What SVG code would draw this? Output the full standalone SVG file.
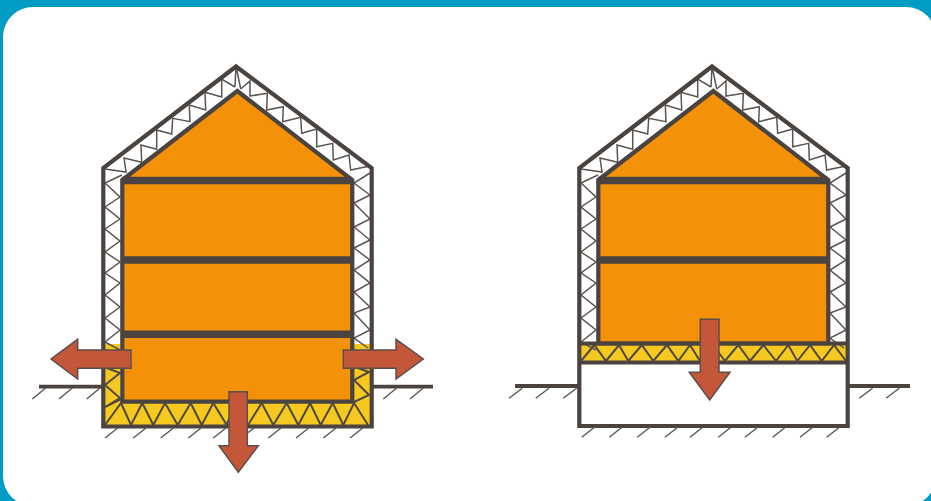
<svg xmlns="http://www.w3.org/2000/svg" xmlns:xlink="http://www.w3.org/1999/xlink" width="931" height="501" viewBox="0 0 931 501">
<style>
.wall{fill:none;stroke:#4a4340;stroke-width:4.200;stroke-linejoin:miter}
.inner{fill:#f39209;stroke:#4a4340;stroke-width:4.200;stroke-linejoin:miter}
.floor{fill:none;stroke:#4a4340;stroke-width:7.400}
.truss{fill:none;stroke:#5a5452;stroke-width:1.500;stroke-linejoin:miter}
.zig{fill:none;stroke:#4f4845;stroke-width:2;stroke-linejoin:miter}
.yellow{fill:#f5c91f}
.ground{fill:none;stroke:#4a4340;stroke-width:3.800}
.tick{fill:none;stroke:#5a5452;stroke-width:1.400}
.arrow{fill:#c4573a;stroke:#5c4f4a;stroke-width:1.500;stroke-linejoin:miter}
</style>
<defs>
<g id="upperTruss">
<path class="truss" d="M105 169L126 172L124 158L141.700 162.300L141 145L156.700 149.300L156.700 130L171.700 134L172.700 118.300L190 121.700L189.300 105L205.700 110L205 92.300L221.700 97L221.700 79L235 87"/>
<path class="truss" d="M240.700 89L250 81L250 96L267.300 93.300L266.700 110L283.300 106.700L282.700 121.700L300.700 117.300L301.700 133.300L316.700 129L316.700 146.700L332.700 143.300L333.300 160L349 155L350.700 170L370 166"/>
<path class="truss" d="M236 66L235 87M236 66L240.700 89"/>
</g>
<g id="leftWallTruss"><path class="truss" d="M122 175L105 183L120 197L105 207L120 219L105 229L120 241L105 252L120 262L105 273L120 283L105 295L120 307L105 318L120 330L105 342L120 350"/></g>
<g id="rightWallTruss"><path class="truss" d="M370 173L354 183L370 195L354 203L370 219L354 227L370 240L354 248L370 260L354 270L370 283L354 292L370 307L354 313L370 330L354 338L368 348"/></g>
</defs>
<rect width="931" height="501" fill="#009cc4"/>
<rect x="3" y="7" width="933" height="499" rx="30" ry="30" fill="#fff"/>

<g id="house-left">
<path class="yellow" d="M105 344H120V403H354V344H370V425H105Z"/>
<use xlink:href="#upperTruss"/>
<use xlink:href="#leftWallTruss"/>
<use xlink:href="#rightWallTruss"/>
<path class="zig" d="M105 350L120 358M107 368L120 373L105 385L120 398L105 407L121 399M105 425L121 403L131 425L142.300 403L153.300 425L165 403L177.700 425L190.700 403L201.700 425L213.300 403L226.700 425L235 403M248 425L261.700 403L273.300 425L286.700 403L298.300 425L310 403L320.700 425L332.700 403L343.300 425L354 403L368 425M354 402L369 395L354 380L369 372L355 367"/>
<path class="wall" d="M103.300 426.500V168L236 66.500L371.700 168V426.500Z"/>
<path class="inner" d="M122.300 180L237.300 91L352.300 180V401.700H122.300Z"/>
<path class="floor" d="M122 180.500H352M122 260H352M122 334.300H352"/>
</g>

<g id="house-right">
<rect class="yellow" x="581" y="345" width="265" height="16"/>
<g transform="translate(476 0)">
<use xlink:href="#upperTruss"/>
<use xlink:href="#leftWallTruss"/>
<use xlink:href="#rightWallTruss"/>
</g>
<path class="zig" d="M581 361L594.300 345L606 361L619 345L628.300 361L641.700 345L653.300 361L667 345L678.300 361L690 345L700 361L713 345L725 361L738.300 345L750 361L763.300 345L776 361L788.300 345L797.300 361L810 345L821.700 361L834 345L846 361"/>
<path class="inner" d="M598.300 180L713.300 91L828.300 180V343.500H598.300Z"/>
<path class="wall" d="M579.300 426V168L712 66.500L847.700 168V426Z"/>
<path class="wall" d="M579.300 343.500H847.700M579.300 362.500H847.700"/>
<path class="floor" d="M598 180.500H828M598 260H828"/>
</g>

<g id="ground">
<path class="ground" d="M39 386.700H102M373 386.700H433M515 386H578M849 386H910"/>
<path class="tick" d="M32.300 399L45.700 388M59 399L72.300 388M86.700 399L100 388M383.300 399L396.700 388M410 399L423.300 388"/>
<path class="tick" d="M105 438L117.700 428M133.300 438L146 428M160.700 438L173.400 428M188.300 438L201 428M213.300 438L226 428M241 438L254 428M268.300 438L281 428M296 438L308.700 428M323.300 438L336 428M350 438L362.700 428"/>
<path class="tick" d="M509 398.300L522.300 388.300M535.700 398.300L549 388.300M563.300 398.300L576.600 388.300M859.300 398.300L872.600 388.300M886 398.300L899.300 388.300"/>
<path class="tick" d="M581.700 437.300L594.400 427.300M609.300 437.300L622 427.300M637.300 437.300L650 427.300M665 437.300L677.700 427.300M690 437.300L702.700 427.300M718.300 437.300L731 427.300M745 437.300L757.700 427.300M772.700 437.300L785.400 427.300M800 437.300L812.700 427.300M826.700 437.300L839.400 427.300"/>
</g>

<g id="arrows">
<path class="arrow" d="M131 350V368.300H77.700V379L51 359L77.700 339.300V350Z"/>
<path class="arrow" d="M343.300 350V368.300H396V379L423.300 359L396 339.300V350Z"/>
<path class="arrow" d="M229 391.700H247.300V445.700H258.300L238.300 472.300L219 445.700H229Z"/>
<path class="arrow" d="M700.300 319.300H719V372.300H730L709.700 400L689.300 372.300H700.300Z"/>
</g>
</svg>
